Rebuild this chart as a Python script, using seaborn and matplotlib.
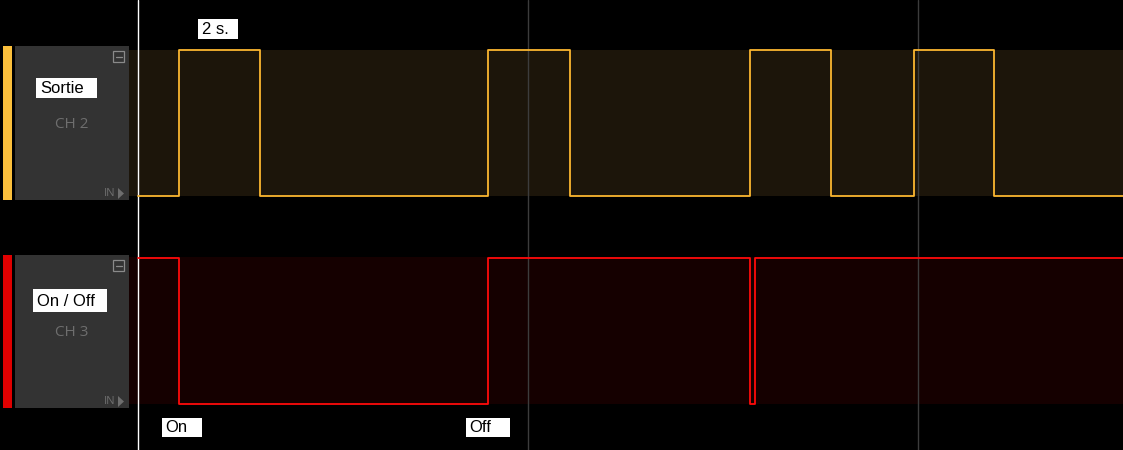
import numpy as np
import seaborn as sns
import matplotlib.pyplot as plt
from matplotlib.patches import Rectangle, Polygon

sns.set_theme(style="dark")
plt.rcParams['font.family'] = ['Liberation Sans', 'DejaVu Sans']

# temps des fronts (secondes) et etats logiques
t_ch2 = [0.0, 1.05, 3.13, 8.97, 11.08, 15.69, 17.77, 19.90, 21.95, 25.26]
s_ch2 = [0, 1, 0, 1, 0, 1, 0, 1, 0, 0]
t_ch3 = [0.0, 1.05, 8.97, 15.69, 15.82, 25.26]
s_ch3 = [1, 0, 1, 0, 1, 1]

grille = [10, 20]
noms = ["Sortie", "On / Off"]
canaux = ["CH 2", "CH 3"]
echelle = "2 s."
marques = [("On", 162, 202), ("Off", 466, 510)]

W, H = 1123, 450
PX_S = 39.0  # pixels par seconde
X0 = 138

fig = plt.figure(figsize=(W / 100, H / 100), dpi=100)
fig.patch.set_facecolor("black")

ax = fig.add_axes([0, 0, 1, 1])
ax.set_facecolor("black")
ax.set_xlim(-X0 / PX_S, (W - X0) / PX_S)
ax.set_ylim(H, 0)
ax.axis("off")

# bandes de fond
xmin_band = 129 / W
ax.axhspan(50, 196, xmin=xmin_band, xmax=1, color="#1c150a", lw=0, zorder=0)
ax.axhspan(257, 404, xmin=xmin_band, xmax=1, color="#150000", lw=0, zorder=0)

# grille et curseur
for g in grille:
    ax.axvline(g, color="#3c3c3c", lw=1, zorder=1)
ax.axvline(0, color="white", lw=1, zorder=1)

# traces
y2 = [196 - 146 * s for s in s_ch2]
y3 = [404 - 146 * s for s in s_ch3]
sns.lineplot(x=t_ch2, y=y2, ax=ax, drawstyle="steps-post", color="#fbb630",
             lw=1.3, estimator=None, sort=False, zorder=3)
sns.lineplot(x=t_ch3, y=y3, ax=ax, drawstyle="steps-post", color="#ff0a0a",
             lw=1.3, estimator=None, sort=False, zorder=3)

# interface (coordonnees pixels)
ui = fig.add_axes([0, 0, 1, 1])
ui.set_xlim(0, W)
ui.set_ylim(H, 0)
ui.axis("off")
ui.patch.set_alpha(0)

panneaux = [(46, 200, "#fbbf3c", 125), (255, 408, "#e00000", 332)]
boites = [(36, 78, 97, 98), (33, 289, 107, 312)]
for (y0, y1, c, ych), nom, ch, (bx0, by0, bx1, by1) in zip(panneaux, noms, canaux, boites):
    ui.add_patch(Rectangle((3, y0), 9, y1 - y0, color=c, lw=0))
    ui.add_patch(Rectangle((15, y0), 114, y1 - y0, color="#333333", lw=0))
    ui.add_patch(Rectangle((113, y0 + 5), 11, 11, fill=False, ec="#8a8a8a", lw=0.9))
    ui.plot([115.5, 121.5], [y0 + 10.5, y0 + 10.5], color="#8a8a8a", lw=0.9)
    ui.text(110, y1 - 6, "IN", color="#6e6e6e", fontsize=8, ha="center", va="center",
            family=["Open Sans", "DejaVu Sans"])
    ui.add_patch(Polygon([[118, y1 - 12], [118, y1 - 1], [124, y1 - 6.5]], color="#6e6e6e", lw=0))
    ui.add_patch(Rectangle((bx0, by0), bx1 - bx0, by1 - by0, color="white", lw=0))
    ui.text(bx0 + 4, (by0 + by1) / 2 + 0.5, nom, color="black", fontsize=12,
            ha="left", va="center")
    ui.text(72, ych, ch, color="#6e6e6e", fontsize=11, ha="center", va="center",
            family=["Open Sans", "DejaVu Sans"])

ui.add_patch(Rectangle((198, 19), 40, 20, color="white", lw=0))
ui.text(202, 29.5, echelle, color="black", fontsize=12, ha="left", va="center")
for txt, bx0, bx1 in marques:
    ui.add_patch(Rectangle((bx0, 418), bx1 - bx0, 19, color="white", lw=0))
    ui.text(bx0 + 3, 428, txt, color="black", fontsize=12, ha="left", va="center")

fig.savefig("out.png", dpi=100, facecolor="black")
